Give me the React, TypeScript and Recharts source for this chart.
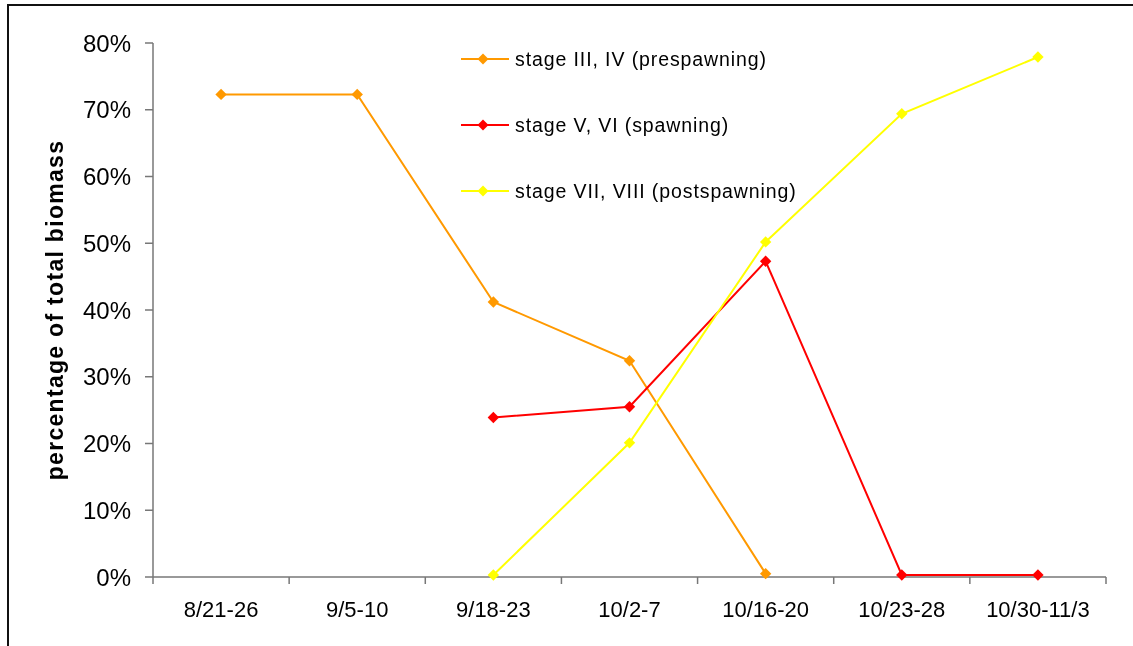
import { LineChart, Line, XAxis, YAxis, Legend } from "recharts"

const periods = ["8/21-26", "9/5-10", "9/18-23", "10/2-7", "10/16-20", "10/23-28", "10/30-11/3"]
const prespawning = [72.3, 72.3, 41.2, 32.4, 0.5, null, null]
const spawning = [null, null, 23.9, 25.5, 47.3, 0.3, 0.3]
const postspawning = [null, null, 0.3, 20.1, 50.2, 69.4, 77.9]
const yTicks = [0, 10, 20, 30, 40, 50, 60, 70, 80]

const series = [
  { key: "pre", name: "stage III, IV (prespawning)", color: "#FF9900" },
  { key: "spawn", name: "stage V, VI (spawning)", color: "#FF0000" },
  { key: "post", name: "stage VII, VIII (postspawning)", color: "#FFFF00" },
]

const data = periods.map((period, i) => ({
  period,
  pre: prespawning[i],
  spawn: spawning[i],
  post: postspawning[i],
}))

const W = 1117
const H = 630
const Y_W = 145
const M_RIGHT = 19
const BAND = (W - Y_W - M_RIGHT) / periods.length
const AXIS = "#777"
const FONT = "'Liberation Sans', Arial, sans-serif"

function diamond(color: string) {
  return (props: any) => {
    const { cx, cy, value, index } = props
    if (cy == null || value == null) return <g key={index} />
    const r = 5.7
    return (
      <polygon
        key={index}
        points={`${cx},${cy - r} ${cx + r},${cy} ${cx},${cy + r} ${cx - r},${cy}`}
        fill={color}
      />
    )
  }
}

function PeriodTick(props: any) {
  const { x, y, payload, index } = props
  const half = BAND / 2
  return (
    <g>
      <line x1={x - half} x2={x - half} y1={y} y2={y + 7} stroke={AXIS} strokeWidth={1.5} />
      {index === periods.length - 1 && (
        <line x1={x + half} x2={x + half} y1={y} y2={y + 7} stroke={AXIS} strokeWidth={1.5} />
      )}
      <text x={x} y={y + 32} dy="0.355em" textAnchor="middle" fill="#000" fontSize={22}>
        {payload.value}
      </text>
    </g>
  )
}

function StageLegend() {
  return (
    <svg width={360} height={170}>
      {series.map((s, i) => {
        const cy = 16 + i * 66
        return (
          <g key={s.key}>
            <line x1={0} x2={48} y1={cy} y2={cy} stroke={s.color} strokeWidth={2} />
            <polygon points={`22,${cy - 5.5} 27.5,${cy} 22,${cy + 5.5} 16.5,${cy}`} fill={s.color} />
            <text x={54} y={cy} dy="0.355em" fontSize={19.5} letterSpacing={0.9} fill="#000">
              {s.name}
            </text>
          </g>
        )
      })}
    </svg>
  )
}

export default function App() {
  return (
    <div style={{ position: "relative", width: W, height: H, fontFamily: FONT }}>
      <div
        style={{
          position: "fixed",
          left: 7,
          top: 4,
          width: 1126,
          height: 642,
          borderTop: "2px solid #111",
          borderLeft: "2px solid #111",
          boxSizing: "border-box",
          pointerEvents: "none",
        }}
      />
      <LineChart width={W} height={H} data={data} margin={{ top: 35, right: M_RIGHT, bottom: 0, left: 0 }}>
        <XAxis
          dataKey="period"
          scale="band"
          interval={0}
          height={61}
          stroke={AXIS}
          strokeWidth={1.5}
          tickLine={false}
          tickSize={0}
          tickMargin={0}
          tick={<PeriodTick />}
        />
        <YAxis
          type="number"
          domain={[0, 80]}
          ticks={yTicks}
          width={Y_W}
          stroke={AXIS}
          strokeWidth={1.5}
          tickSize={8}
          tickMargin={14}
          tick={{ fill: "#000", fontSize: 24 }}
          tickFormatter={(v: number) => `${v}%`}
          label={({ viewBox }: any) => (
            <text
              x={47}
              y={viewBox.y + viewBox.height / 2}
              transform={`rotate(-90, 47, ${viewBox.y + viewBox.height / 2})`}
              textAnchor="middle"
              dy="0.355em"
              fontSize={23}
              fontWeight="bold"
              letterSpacing={1.3}
              fill="#000"
            >
              percentage of total biomass
            </text>
          )}
        />
        <Legend
          layout="vertical"
          align="center"
          verticalAlign="middle"
          wrapperStyle={{ left: 453, top: 35, width: 360 }}
          content={() => <StageLegend />}
        />
        {series.map((s) => (
          <Line
            key={s.key}
            dataKey={s.key}
            name={s.name}
            type="linear"
            stroke={s.color}
            strokeWidth={2}
            dot={diamond(s.color)}
            activeDot={false}
            isAnimationActive={false}
          />
        ))}
      </LineChart>
    </div>
  )
}
